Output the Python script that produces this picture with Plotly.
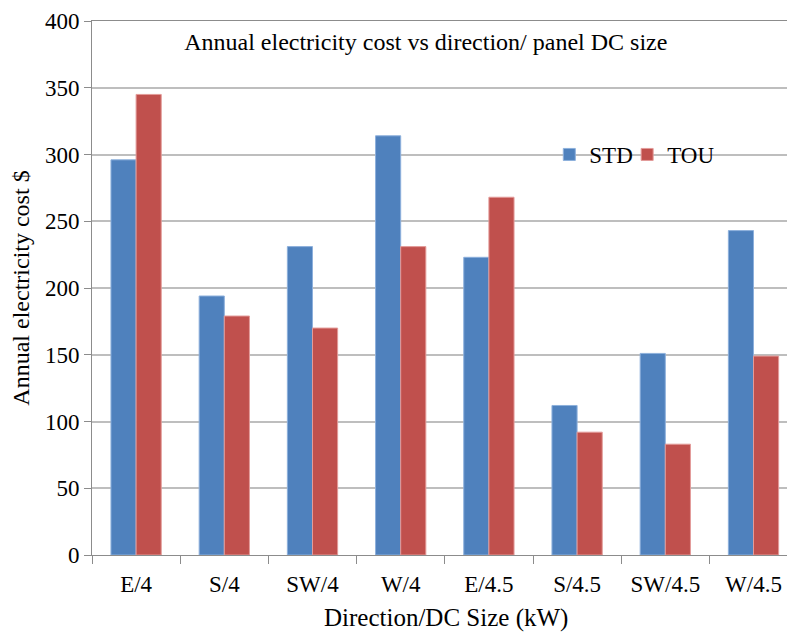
import plotly.graph_objects as go

categories = ["E/4", "S/4", "SW/4", "W/4", "E/4.5", "S/4.5", "SW/4.5", "W/4.5"]
std_values = [296, 194, 231, 314, 223, 112, 151, 243]
tou_values = [345, 179, 170, 231, 268, 92, 83, 149]
y_ticks = [0, 50, 100, 150, 200, 250, 300, 350, 400]

FONT = "Liberation Serif, Times New Roman, serif"

fig = go.Figure()
fig.add_trace(go.Bar(x=categories, y=std_values, name="STD", legend="legend",
                     marker=dict(color="#4F81BD", line=dict(color="#8DB0DC", width=1))))
fig.add_trace(go.Bar(x=categories, y=tou_values, name="TOU", legend="legend2",
                     marker=dict(color="#C0504D", line=dict(color="#E39B99", width=1))))

legend_common = dict(orientation="h", yanchor="middle", y=0.75,
                     font=dict(family=FONT, size=23), bgcolor="rgba(0,0,0,0)",
                     itemwidth=30)

fig.update_layout(
    width=787, height=633,
    margin=dict(l=92, r=0, t=21, b=78),
    paper_bgcolor="white", plot_bgcolor="white",
    font=dict(family=FONT, size=23, color="black"),
    barmode="group", bargap=0.43, bargroupgap=0,
    title=dict(text="Annual electricity cost vs direction/ panel DC size",
               x=0.541, xanchor="center", xref="container",
               y=1 - 42 / 633, yanchor="middle", yref="container",
               font=dict(family=FONT, size=24, color="black")),
    legend=dict(x=0.658, xanchor="left", **legend_common),
    legend2=dict(x=0.770, xanchor="left", **legend_common),
    showlegend=True,
    annotations=[dict(text="Direction/DC Size (kW)", xref="paper", yref="paper",
                      x=(446 - 92) / 695, y=-(618 - 555) / 534,
                      xanchor="center", yanchor="middle", showarrow=False,
                      font=dict(family=FONT, size=25, color="black"))],
)
fig.update_xaxes(
    range=[-0.5, -0.5 + (787 - 92) / 88.2],
    showline=True, linecolor="#8C8C8C", linewidth=1, mirror=True,
    ticks="outside", tickson="boundaries", ticklen=8, tickcolor="#8C8C8C",
    ticklabelstandoff=8,
    showgrid=False,
    tickfont=dict(family=FONT, size=23),
    automargin=False,
)
fig.update_yaxes(
    range=[0, 400], tickvals=y_ticks,
    showline=True, linecolor="#8C8C8C", linewidth=1,
    ticks="outside", ticklen=7, tickcolor="#8C8C8C",
    showgrid=True, gridcolor="#BEBEBE", gridwidth=1.5,
    zeroline=False,
    title=dict(text="Annual electricity cost $", standoff=8, font=dict(family=FONT, size=24)),
    tickfont=dict(family=FONT, size=23),
    automargin=False,
)

fig.write_html("out.html", config={"displayModeBar": False},
               post_script="document.body.style.margin='0';")
